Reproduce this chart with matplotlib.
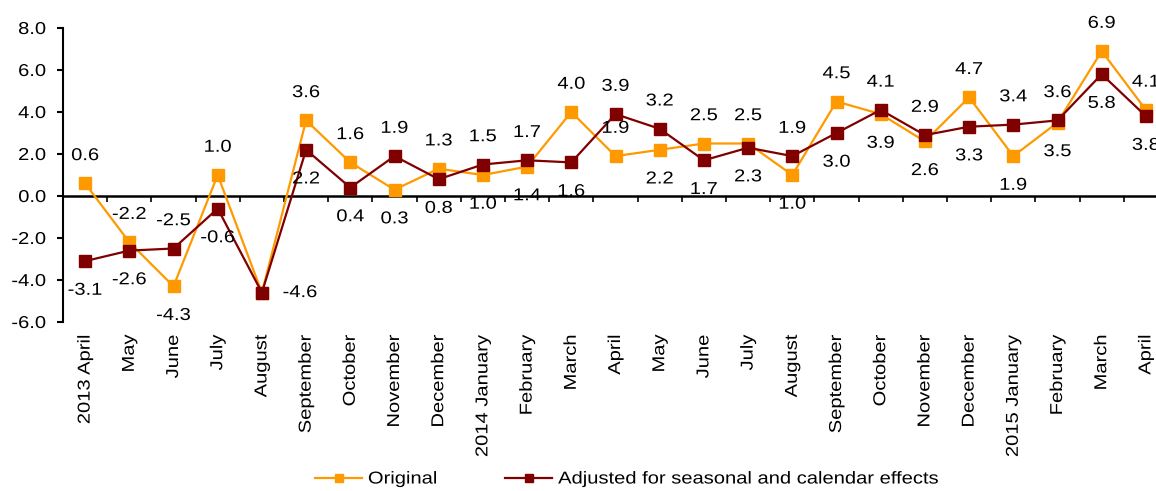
import matplotlib
matplotlib.use("Agg")
import matplotlib.pyplot as plt
import numpy as np
from matplotlib.patheffects import AbstractPathEffect
from matplotlib.transforms import Affine2D

plt.rcParams['font.family'] = ['Liberation Sans', 'DejaVu Sans']
plt.rcParams['axes.unicode_minus'] = False

months = ['2013 April', 'May', 'June', 'July', 'August', 'September', 'October',
          'November', 'December', '2014 January', 'February', 'March', 'April',
          'May', 'June', 'July', 'August', 'September', 'October', 'November',
          'December', '2015 January', 'February', 'March', 'April']

original = [0.6, -2.2, -4.3, 1.0, -4.6, 3.6, 1.6, 0.3, 1.3, 1.0, 1.4, 4.0, 1.9,
            2.2, 2.5, 2.5, 1.0, 4.5, 3.9, 2.6, 4.7, 1.9, 3.5, 6.9, 4.1]
adjusted = [-3.1, -2.6, -2.5, -0.6, -4.6, 2.2, 0.4, 1.9, 0.8, 1.5, 1.7, 1.6, 3.9,
            3.2, 1.7, 2.3, 1.9, 3.0, 4.1, 2.9, 3.3, 3.4, 3.6, 5.8, 3.8]

# where each value label sits: 'a' above, 'b' below, 'r' right, '' none
orig_pos = ['a', 'a', 'b', 'a', '', 'a', 'a', 'b', 'a', 'b', 'b', 'a', 'a',
            'b', 'a', 'a', 'b', 'a', 'b', 'b', 'a', 'b', 'b', 'a', 'a']
adj_pos = ['b', 'b', 'a', 'b', 'r', 'b', 'b', 'a', 'b', 'a', 'a', 'b', 'a',
           'a', 'b', 'b', 'a', 'b', 'a', 'a', 'b', 'a', 'a', 'b', 'b']

ORANGE = '#FF9900'
DARKRED = '#800000'
FS = 12.4
SX = 1.17  # the reference font is drawn a bit wide


class Stretch(AbstractPathEffect):
    """widen glyphs along the text direction, keeping one end fixed"""

    def __init__(self, sx, anchor='center'):
        super().__init__()
        self.sx = sx
        self.anchor = anchor

    def draw_path(self, renderer, gc, tpath, affine, rgbFace=None):
        ext = tpath.get_extents()
        cx = {'left': ext.x0, 'center': (ext.x0 + ext.x1) / 2,
              'right': ext.x1}[self.anchor]
        t = Affine2D().translate(-cx, 0).scale(self.sx, 1).translate(cx, 0) + affine
        renderer.draw_path(gc, tpath, t, rgbFace)


fig = plt.figure(figsize=(11.56, 4.91), dpi=100)
ax = fig.add_axes([63 / 1156, 1 - 322 / 491, 1105 / 1156, 294 / 491])

x = np.arange(len(months))
ax.plot(x, original, color=ORANGE, lw=1.6, marker='s', ms=8.5,
        label='Original', zorder=3)
ax.plot(x, adjusted, color=DARKRED, lw=1.6, marker='s', ms=8.5,
        label='Adjusted for seasonal and calendar effects', zorder=4)


def put_labels(vals, pos):
    for i, (v, p) in enumerate(zip(vals, pos)):
        if p == '':
            continue
        off = {'a': (0, 20), 'b': (0, -21), 'r': (15, 0)}[p]
        t = ax.annotate(f'{v:.1f}', (i, v), xytext=off, textcoords='offset points',
                        ha='center' if p != 'r' else 'left', va='center',
                        fontsize=FS, color='black', zorder=5)
        t.set_path_effects([Stretch(SX, 'center' if p != 'r' else 'left')])


put_labels(original, orig_pos)
put_labels(adjusted, adj_pos)

ax.set_xlim(-0.5, len(months) - 0.5)
ax.set_ylim(-6, 8)
ax.set_yticks(np.arange(-6, 9, 2))
ax.set_yticklabels([f'{t:.1f}' for t in np.arange(-6, 9, 2)])
ax.set_xticks(x)
ax.set_xticklabels(months, rotation=90, va='top', ha='center')
ax.tick_params(axis='x', length=0, pad=9, labelsize=FS)
ax.tick_params(axis='y', direction='out', length=4.3, width=1.5, pad=8,
               labelsize=FS)
for lab in ax.get_xticklabels():
    lab.set_path_effects([Stretch(SX, 'right')])
for lab in ax.get_yticklabels():
    lab.set_path_effects([Stretch(SX, 'right')])
for s in ['top', 'right', 'bottom']:
    ax.spines[s].set_visible(False)
ax.spines['left'].set_linewidth(1.5)

# zero line with category separators
sec = ax.secondary_xaxis(6 / 14)
sec.set_xticks(np.arange(0.5, len(months) - 0.5, 1))
sec.tick_params(axis='x', direction='out', length=4.5, width=1.2,
                labelbottom=False, labeltop=False)
sec.spines['bottom'].set_linewidth(1.8)
sec.spines['top'].set_visible(False)

leg = fig.legend(loc='center left', bbox_to_anchor=(315 / 1156, 1 - 479 / 491),
                 ncol=2, frameon=False, fontsize=FS, handlelength=2.73,
                 handletextpad=0.35, columnspacing=4.48, markerscale=0.65,
                 borderpad=0, borderaxespad=0)
for t in leg.get_texts():
    t.set_path_effects([Stretch(SX, 'left')])

fig.savefig('out.png', dpi=100)
